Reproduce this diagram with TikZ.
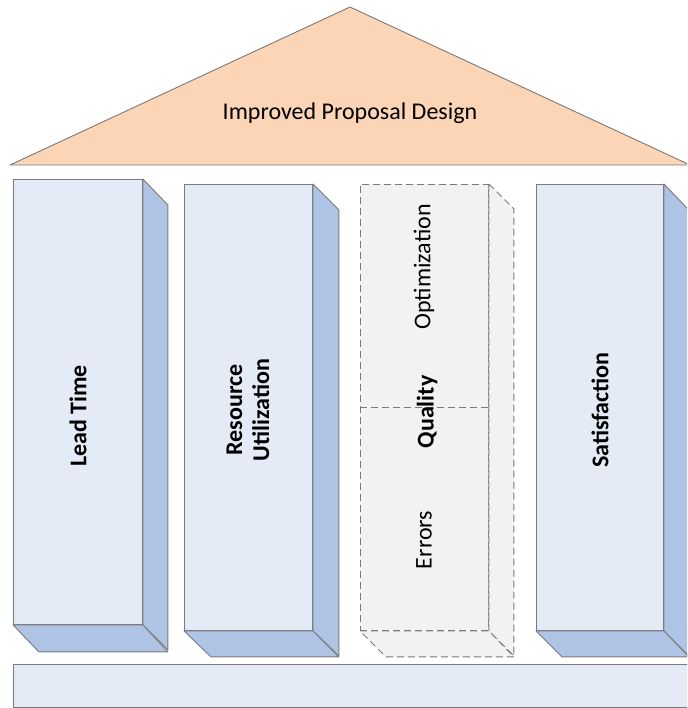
\documentclass[tikz,border=0pt]{standalone}
\usepackage{fontspec}
\setmainfont{Carlito}
\definecolor{roofc}{HTML}{FBD5B5}
\definecolor{frontc}{HTML}{E4EBF6}
\definecolor{sidec}{HTML}{AFC4E5}
\definecolor{greyc}{HTML}{F2F2F2}
\definecolor{edgec}{HTML}{7A7A7A}
\tikzset{
  front/.style={draw=edgec, line width=0.9pt, fill=frontc, anchor=north west, inner sep=0pt},
  side/.style={draw=edgec, line width=0.9pt, fill=sidec, line join=round},
  qfront/.style={draw=edgec, line width=0.9pt, fill=greyc, anchor=north west, inner sep=0pt, dash pattern=on 7pt off 4pt},
  qside/.style={draw=edgec, line width=0.9pt, fill=greyc, dash pattern=on 7pt off 4pt},
  lab/.style={font=\fontsize{24}{27}\selectfont, rotate=90, align=center},
  blab/.style={lab, font=\fontsize{24}{27}\selectfont\bfseries},
}
\begin{document}
\begin{tikzpicture}[x=1pt,y=-1pt]
\useasboundingbox (0,0) rectangle (687,708);
\begin{scope}
\clip (0,0) rectangle (687,708);
% roof
\coordinate (rl) at (10,165);
\coordinate (ra) at (350,7);
\coordinate (rr) at (690,165);
\draw[draw=edgec, line width=0.9pt, fill=roofc, line join=round] (rl) -- (ra) -- (rr) -- cycle;
\node[font=\fontsize{24}{27}\selectfont] (roof) at (350,113) {Improved Proposal Design};
% base
\node[front, minimum width=690pt, minimum height=43pt] (base) at (13,664) {};
% pillar 1
\node[front, minimum width=129pt, minimum height=445pt] (p1) at (13,179) {};
\draw[side] (p1.north east) -- ++(25,26) -- ++(0,445) -- (p1.south east) -- cycle;
\draw[side] (p1.south west) -- (p1.south east) -- ++(25,27) -- ++(-129,0) -- cycle;
\node[blab] (t1) at (78,416) {Lead Time};
% pillar 2
\node[front, minimum width=128pt, minimum height=446pt] (p2) at (184,184) {};
\draw[side] (p2.north east) -- ++(26,26) -- ++(0,446) -- (p2.south east) -- cycle;
\draw[side] (p2.south west) -- (p2.south east) -- ++(26,26) -- ++(-128,0) -- cycle;
\node[blab] (t2) at (248,410) {Resource\\Utilization};
% pillar 3 (dashed)
\node[qfront, minimum width=128pt, minimum height=446pt] (p3) at (360,184) {};
\draw[qside] (p3.north east) -- ++(25,25) -- ++(0,447) -- (p3.south east) -- cycle;
\draw[qside] (p3.south west) -- (p3.south east) -- ++(25,26) -- ++(-128,0) -- cycle;
\coordinate (m3l) at (360,407);
\coordinate (m3r) at (488,407);
\draw[qside] (m3l) -- (m3r);
\node[blab] (t3) at (427,412) {Quality};
\node[lab] (t3a) at (424,267) {Optimization};
\node[lab] (t3b) at (424,540) {Errors};
% pillar 4
\node[front, minimum width=127pt, minimum height=446pt] (p4) at (536,184) {};
\draw[side] (p4.north east) -- ++(25,26) -- ++(0,446) -- (p4.south east) -- cycle;
\draw[side] (p4.south west) -- (p4.south east) -- ++(25,26) -- ++(-127,0) -- cycle;
\node[blab] (t4) at (600,410) {Satisfaction};
\end{scope}
\end{tikzpicture}
\end{document}
